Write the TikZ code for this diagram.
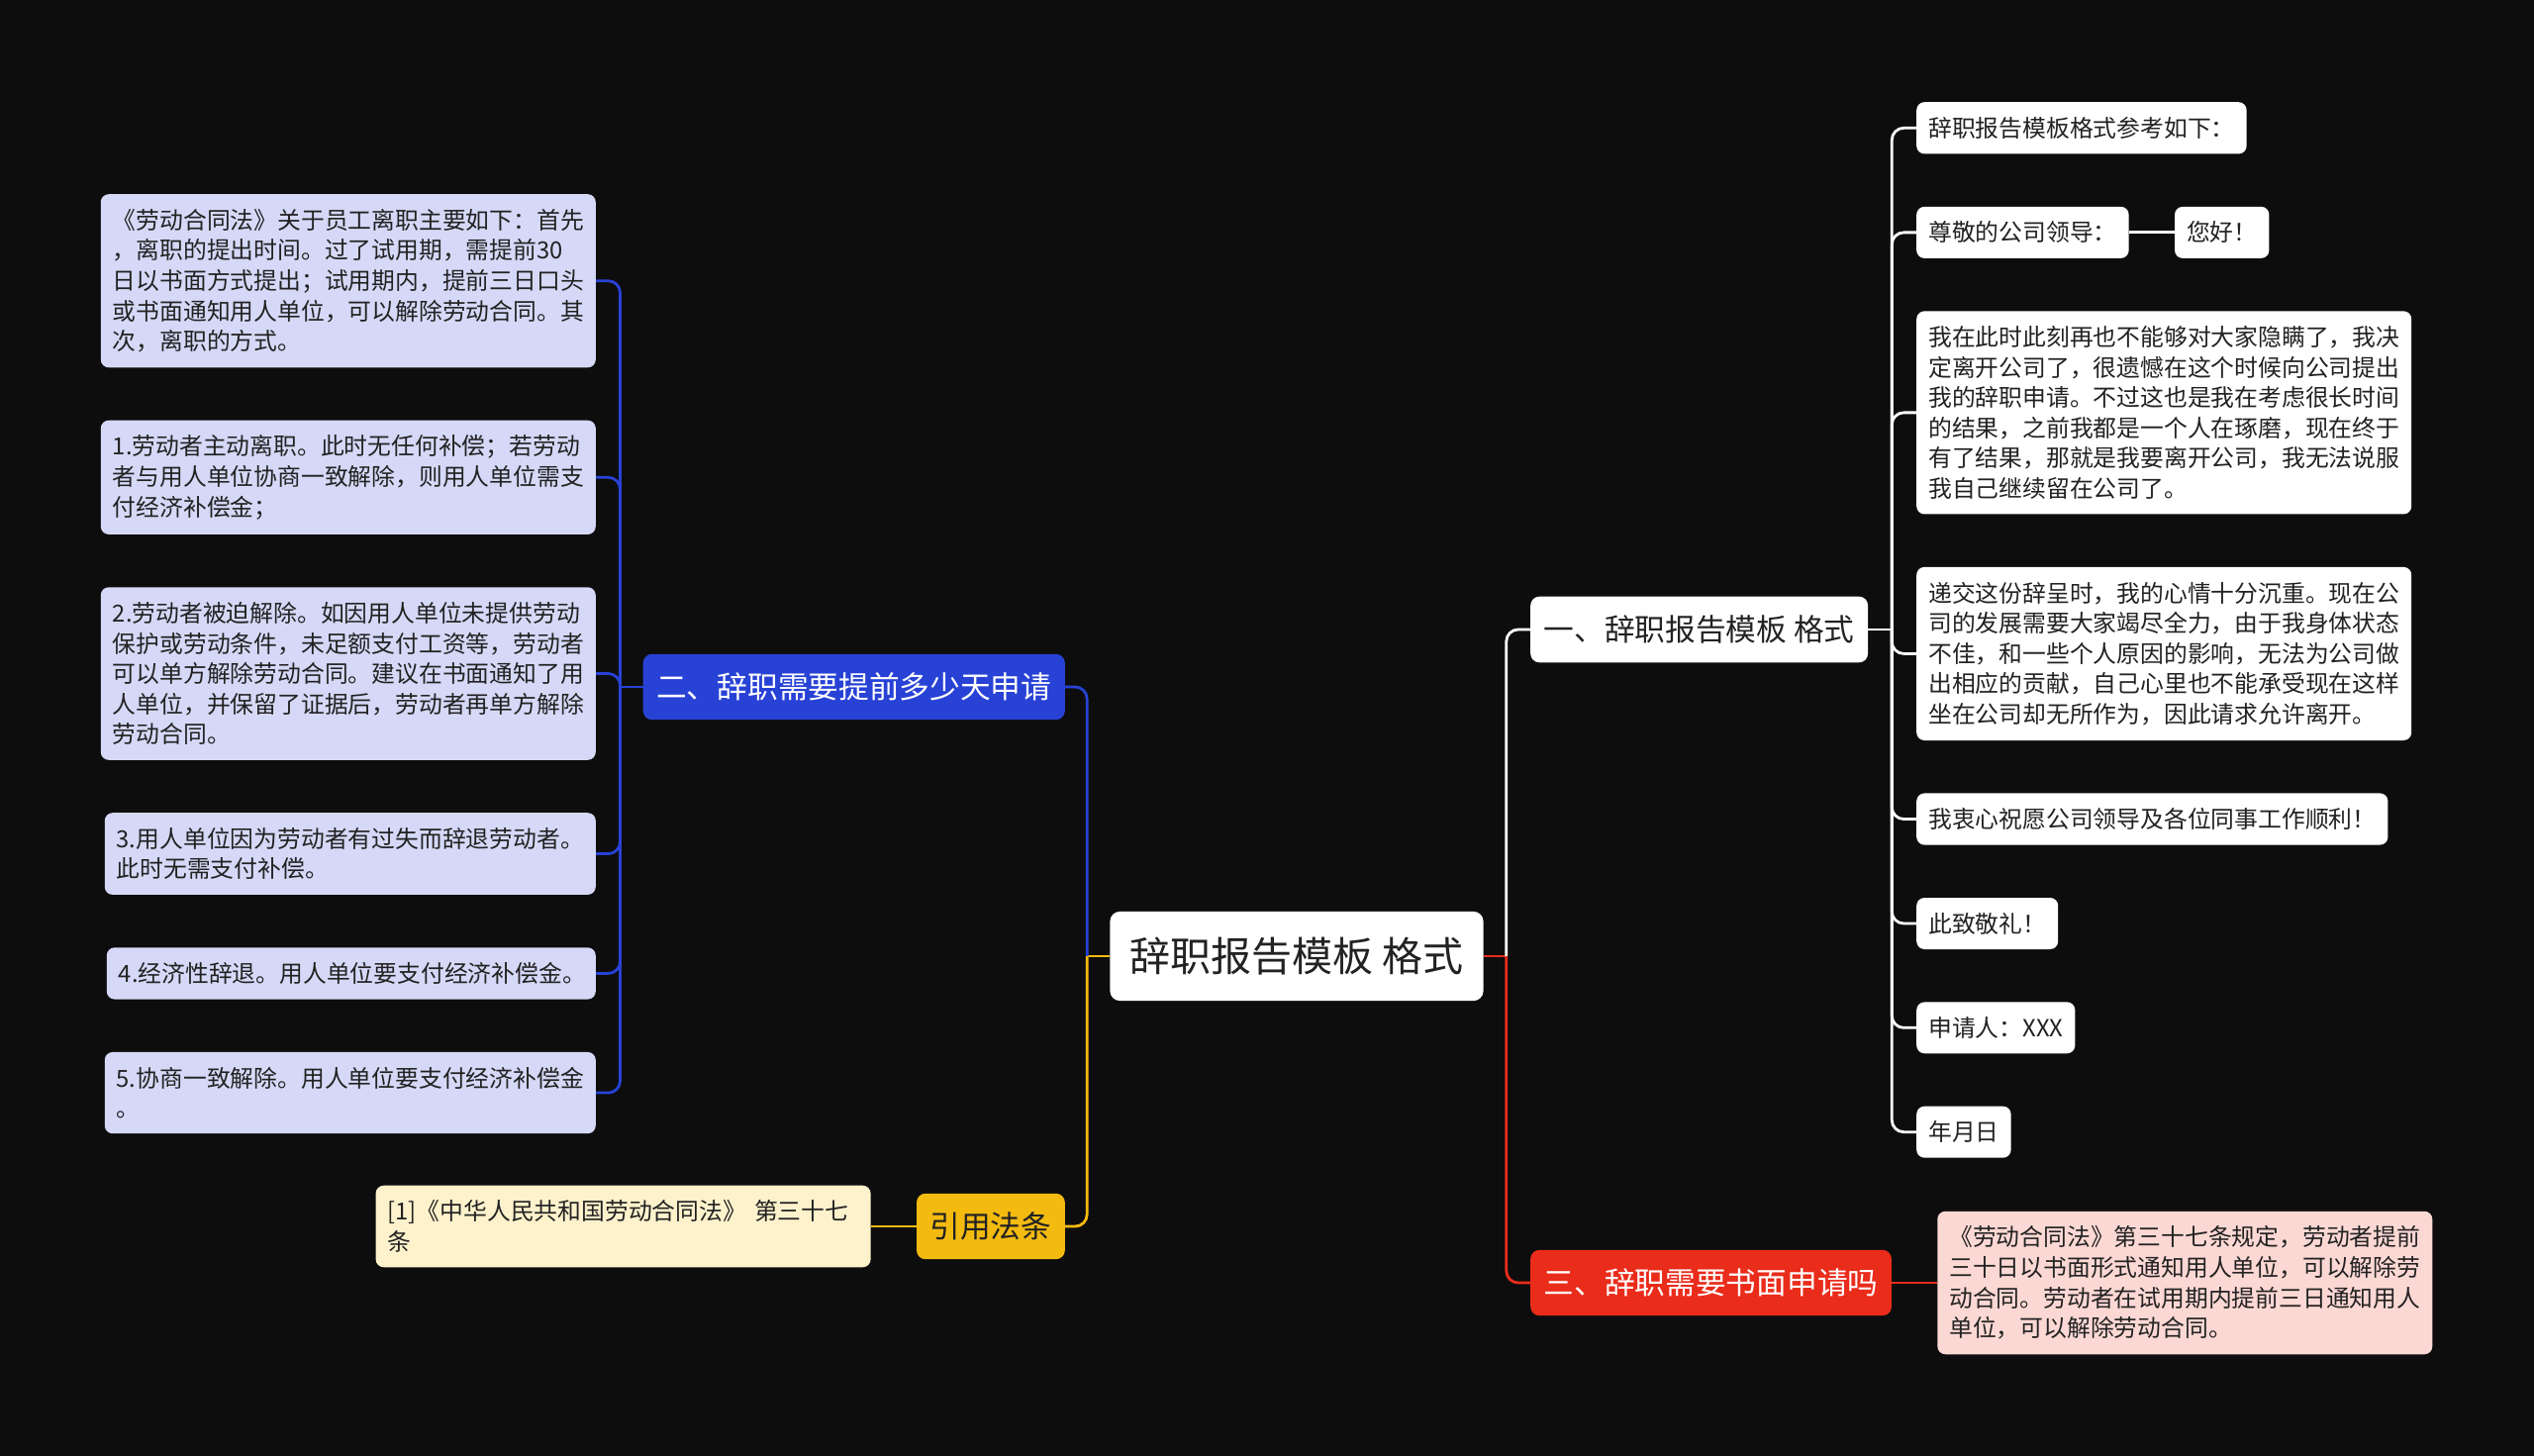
\documentclass[tikz,border=0pt]{standalone}
\usepackage{fontspec}
\setmainfont{Noto Sans CJK SC}
\usetikzlibrary{positioning}
\definecolor{mapbg}{RGB}{13,13,13}
\definecolor{mapblue}{RGB}{40,66,214}
\definecolor{mapbluelight}{RGB}{213,217,247}
\definecolor{mapred}{RGB}{234,44,27}
\definecolor{mapredlight}{RGB}{252,216,212}
\definecolor{mapyellow}{RGB}{243,186,16}
\definecolor{mapyellowlight}{RGB}{254,242,204}
\definecolor{maptext}{RGB}{34,34,34}
\tikzset{
  rootbox/.style={rectangle, rounded corners=10pt, fill=white, text=maptext,
                  inner xsep=20pt, inner ysep=26pt,
                  font=\fontsize{41pt}{49pt}\selectfont},
  branchbox/.style={rectangle, rounded corners=9pt, fill=#1,
                    inner xsep=13.5pt, inner ysep=19pt,
                    font=\fontsize{30.7pt}{37pt}\selectfont},
  leafbox/.style={rectangle, rounded corners=8pt, fill=#1, text=maptext,
                  align=left, inner xsep=12pt, inner ysep=15pt,
                  font=\fontsize{23.8pt}{30.6pt}\selectfont},
  wire/.style={line width=2.8pt, draw=#1, rounded corners=12pt},
}

\begin{document}
\begin{tikzpicture}[x=1pt, y=-1pt, node distance=53pt and 46pt]
  \fill[mapbg] (0,0) rectangle (2560,1471);

  % centre and main branches
  \node[rootbox] (root) at (1310,966) {辞职报告模板 格式};
  \node[branchbox=white, text=maptext, anchor=west] (wbr) at (1546,636) {一、辞职报告模板 格式};
  \node[branchbox=mapred, text=white, anchor=west] (rbr) at (1546,1296) {三、辞职需要书面申请吗};
  \node[branchbox=mapblue, text=white, anchor=east] (bbr) at (1076,694) {二、辞职需要提前多少天申请};
  \node[branchbox=mapyellow, text=maptext, anchor=east] (ybr) at (1076,1239) {引用法条};

  % letter template
  \node[leafbox=white, anchor=north west] (l1) at (1936,103) {辞职报告模板格式参考如下：};
  \node[leafbox=white, below=of l1.south west, anchor=north west] (l2) {尊敬的公司领导：};
  \node[leafbox=white, right=of l2] (hello) {您好！};
  \node[leafbox=white, below=of l2.south west, anchor=north west] (l3) {
    我在此时此刻再也不能够对大家隐瞒了，我决\\
    定离开公司了，很遗憾在这个时候向公司提出\\
    我的辞职申请。不过这也是我在考虑很长时间\\
    的结果，之前我都是一个人在琢磨，现在终于\\
    有了结果，那就是我要离开公司，我无法说服\\
    我自己继续留在公司了。};
  \node[leafbox=white, below=of l3.south west, anchor=north west] (l4) {
    递交这份辞呈时，我的心情十分沉重。现在公\\
    司的发展需要大家竭尽全力，由于我身体状态\\
    不佳，和一些个人原因的影响，无法为公司做\\
    出相应的贡献，自己心里也不能承受现在这样\\
    坐在公司却无所作为，因此请求允许离开。};
  \node[leafbox=white, below=of l4.south west, anchor=north west] (l5) {我衷心祝愿公司领导及各位同事工作顺利！};
  \node[leafbox=white, below=of l5.south west, anchor=north west] (l6) {此致敬礼！};
  \node[leafbox=white, below=of l6.south west, anchor=north west] (l7) {申请人：XXX};
  \node[leafbox=white, below=of l7.south west, anchor=north west] (l8) {年月日};

  % written application
  \node[leafbox=mapredlight, right=of rbr] (rleaf) {
    《劳动合同法》第三十七条规定，劳动者提前\\
    三十日以书面形式通知用人单位，可以解除劳\\
    动合同。劳动者在试用期内提前三日通知用人\\
    单位，可以解除劳动合同。};

  % notice period
  \node[leafbox=mapbluelight, anchor=north east] (bA) at (602,196) {
    《劳动合同法》关于员工离职主要如下：首先\\
    ，离职的提出时间。过了试用期，需提前30\\
    日以书面方式提出；试用期内，提前三日口头\\
    或书面通知用人单位，可以解除劳动合同。其\\
    次，离职的方式。};
  \node[leafbox=mapbluelight, below=of bA.south east, anchor=north east] (b1) {
    1.劳动者主动离职。此时无任何补偿；若劳动\\
    者与用人单位协商一致解除，则用人单位需支\\
    付经济补偿金；};
  \node[leafbox=mapbluelight, below=of b1.south east, anchor=north east] (b2) {
    2.劳动者被迫解除。如因用人单位未提供劳动\\
    保护或劳动条件，未足额支付工资等，劳动者\\
    可以单方解除劳动合同。建议在书面通知了用\\
    人单位，并保留了证据后，劳动者再单方解除\\
    劳动合同。};
  \node[leafbox=mapbluelight, below=of b2.south east, anchor=north east] (b3) {
    3.用人单位因为劳动者有过失而辞退劳动者。\\
    此时无需支付补偿。};
  \node[leafbox=mapbluelight, text width=470pt, below=of b3.south east, anchor=north east] (b4) {4.经济性辞退。用人单位要支付经济补偿金。};
  \node[leafbox=mapbluelight, below=of b4.south east, anchor=north east] (b5) {
    5.协商一致解除。用人单位要支付经济补偿金\\
    。};

  % cited law
  \node[leafbox=mapyellowlight, text width=476pt, left=of ybr] (cite) {[1]《中华人民共和国劳动合同法》 第三十七\\条};

  % connectors
  \draw[wire=mapyellow] (root.west) -- ++(-23,0) coordinate (rootl);
  \draw[wire=mapblue] (rootl) |- (bbr.east);
  \draw[wire=mapyellow] (rootl) |- (ybr.east);
  \draw[wire=mapred] (root.east) -- ++(23,0) coordinate (rootr);
  \draw[wire=white] (rootr) |- (wbr.west);
  \draw[wire=mapred] (rootr) |- (rbr.west);

  \draw[wire=white] (wbr.east) -- ++(24,0) coordinate (wj);
  \foreach \n in {l1,l2,l3,l4,l5,l6,l7,l8}
    \draw[wire=white] (wj) |- (\n.west);
  \draw[wire=white] (l2) -- (hello);

  \draw[wire=mapblue] (bbr.west) -- ++(-23,0) coordinate (bj);
  \foreach \n in {bA,b1,b2,b3,b4,b5}
    \draw[wire=mapblue] (bj) |- (\n.east);

  \draw[wire=mapred] (rbr) -- (rleaf);
  \draw[wire=mapyellow] (ybr) -- (cite);
\end{tikzpicture}
\end{document}
